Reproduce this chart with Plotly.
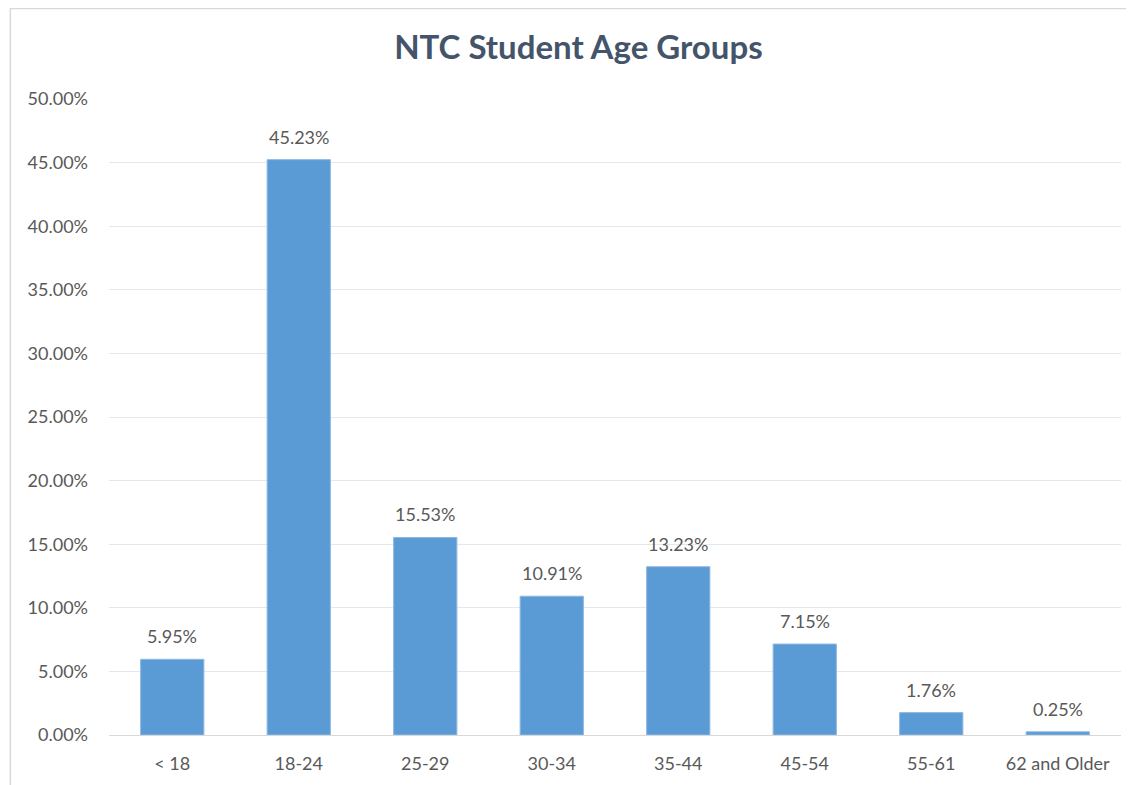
import plotly.graph_objects as go

categories = ["< 18", "18-24", "25-29", "30-34", "35-44", "45-54", "55-61", "62 and Older"]
values = [5.95, 45.23, 15.53, 10.91, 13.23, 7.15, 1.76, 0.25]
tick_vals = [0, 5, 10, 15, 20, 25, 30, 35, 40, 45, 50]
tick_text = [f"{v:.2f}%" for v in tick_vals]
labels = [f"{v:.2f}%" for v in values]

FONT = "Lato, Open Sans, sans-serif"

fig = go.Figure()
fig.add_trace(go.Bar(
    x=categories, y=values,
    marker=dict(color="#5B9BD5", line=dict(color="#8DB7E2", width=1)),
    hoverinfo="x+y",
))

annotations = [
    dict(x=c, y=v, text=t, xref="x", yref="y", showarrow=False,
         yanchor="bottom", yshift=10,
         font=dict(family=FONT, size=18, color="#595959"))
    for c, v, t in zip(categories, values, labels)
]

fig.update_layout(
    width=1134, height=785,
    paper_bgcolor="white", plot_bgcolor="white",
    margin=dict(l=101, r=21, t=91, b=58),
    title=dict(text="<b>NTC Student Age Groups</b>", x=0.503, xanchor="center",
               y=0.95, yanchor="middle",
               font=dict(family=FONT, size=33, color="#44546A")),
    bargap=0.5,
    showlegend=False,
    font=dict(family=FONT, size=18, color="#595959"),
    xaxis=dict(showgrid=False, showline=True, linecolor="#D9D9D9", linewidth=1,
               ticks="", ticklabelstandoff=12,
               tickfont=dict(family=FONT, size=18, color="#595959")),
    yaxis=dict(range=[0, 50], tickvals=tick_vals, ticktext=tick_text,
               showgrid=True, gridcolor="#E3E7EE", gridwidth=1, zeroline=False,
               showline=False, ticks="", ticklabelstandoff=20,
               tickfont=dict(family=FONT, size=18, color="#595959")),
    annotations=annotations,
    shapes=[dict(type="rect", xref="paper", yref="paper",
                 x0=-0.0975, x1=1.06, y0=-0.2, y1=1.1423,
                 line=dict(color="#D9D9D9", width=1.5), layer="below")],
)

fig.write_html("out.html")
